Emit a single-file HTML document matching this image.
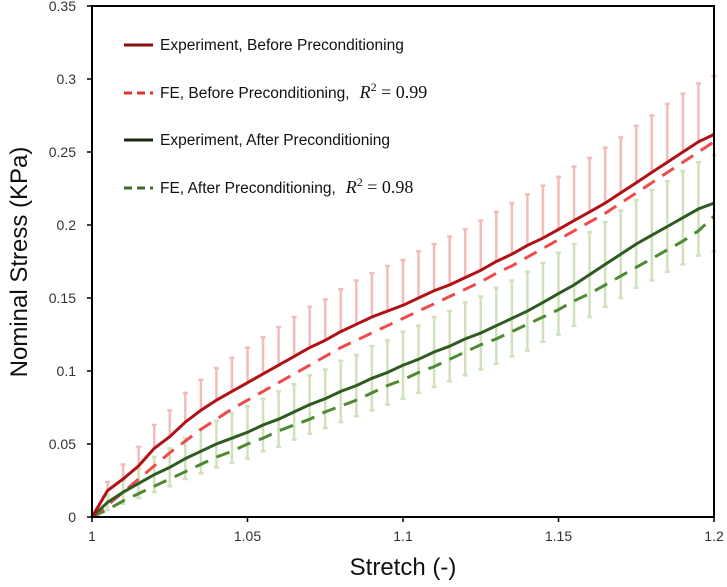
<!DOCTYPE html>
<html><head><meta charset="utf-8"><style>
body{margin:0;background:#fff;}
svg text{font-family:"Liberation Sans",sans-serif;}
</style></head><body>
<svg id="chart" width="727" height="582" xmlns="http://www.w3.org/2000/svg"></svg>
<script>
const xs = [1.000,1.005,1.010,1.015,1.020,1.025,1.030,1.035,1.040,1.045,1.050,1.055,1.060,1.065,1.070,1.075,1.080,1.085,1.090,1.095,1.100,1.105,1.110,1.115,1.120,1.125,1.130,1.135,1.140,1.145,1.150,1.155,1.160,1.165,1.170,1.175,1.180,1.185,1.190,1.195,1.200];
const redExp = [0,0.018,0.026,0.035,0.047,0.055,0.065,0.073,0.080,0.086,0.092,0.098,0.104,0.110,0.116,0.121,0.127,0.132,0.137,0.141,0.145,0.150,0.155,0.159,0.164,0.169,0.175,0.180,0.186,0.191,0.197,0.203,0.209,0.215,0.222,0.229,0.236,0.243,0.250,0.257,0.262];
const redFE = [0,0.008,0.017,0.026,0.035,0.044,0.052,0.060,0.067,0.074,0.080,0.086,0.092,0.098,0.104,0.110,0.116,0.121,0.126,0.131,0.136,0.141,0.146,0.151,0.156,0.161,0.167,0.172,0.178,0.184,0.190,0.196,0.202,0.208,0.215,0.222,0.229,0.236,0.243,0.250,0.257];
const greenExp = [0,0.010,0.017,0.023,0.029,0.034,0.040,0.045,0.050,0.054,0.058,0.063,0.067,0.072,0.077,0.081,0.086,0.090,0.095,0.099,0.104,0.108,0.113,0.117,0.122,0.126,0.131,0.136,0.141,0.147,0.153,0.159,0.166,0.173,0.180,0.187,0.193,0.199,0.205,0.211,0.215];
const greenFE = [0,0.005,0.011,0.016,0.021,0.026,0.031,0.036,0.041,0.045,0.050,0.054,0.059,0.063,0.067,0.072,0.076,0.080,0.085,0.090,0.094,0.099,0.103,0.108,0.113,0.118,0.122,0.127,0.132,0.137,0.142,0.148,0.153,0.159,0.165,0.171,0.177,0.183,0.189,0.196,0.206];
const redSD = [0,0.006,0.010,0.013,0.016,0.018,0.020,0.021,0.022,0.023,0.024,0.025,0.026,0.027,0.028,0.028,0.029,0.030,0.030,0.031,0.031,0.032,0.032,0.033,0.033,0.034,0.034,0.035,0.035,0.036,0.036,0.037,0.037,0.038,0.038,0.039,0.039,0.040,0.040,0.040,0.040];
const greenSD = [0,0.005,0.008,0.010,0.012,0.013,0.014,0.015,0.016,0.017,0.018,0.018,0.019,0.019,0.020,0.020,0.021,0.021,0.022,0.022,0.023,0.023,0.024,0.024,0.025,0.025,0.026,0.026,0.027,0.027,0.028,0.028,0.029,0.029,0.030,0.030,0.031,0.031,0.032,0.032,0.033];
const xTicks = [1,1.05,1.1,1.15,1.2];
const xTickLabels = ["1","1.05","1.1","1.15","1.2"];
const yTicks = [0,0.05,0.1,0.15,0.2,0.25,0.3,0.35];
const yTickLabels = ["0","0.05","0.1","0.15","0.2","0.25","0.3","0.35"];

const L=92,R=714,T=6,B=517;
const X=v=>L+(v-1)/0.2*(R-L);
const Y=v=>B-v/0.35*(B-T);
const svg=document.getElementById('chart');
const NS='http://www.w3.org/2000/svg';
function mk(tag,attrs,parent){const e=document.createElementNS(NS,tag);for(const k in attrs)e.setAttribute(k,attrs[k]);(parent||svg).appendChild(e);return e;}

const gErr=mk('g',{});


xs.forEach((x,i)=>{
  if(i===0)return;
  const px=X(x);
  const gt=Y(greenExp[i]+greenSD[i]), gb=Y(greenExp[i]-greenSD[i]);
  const g=mk('path',{d:`M${px},${gt}V${gb}M${px-2.5},${gt}H${px+2.5}M${px-2.5},${gb}H${px+2.5}`,stroke:'#cfe2bb','stroke-width':2.5,fill:'none'},gErr);
  
  
  const rt=Y(redExp[i]+redSD[i]), rb=Y(redExp[i]);
  const r=mk('path',{d:`M${px},${rt}V${rb}M${px-2.5},${rt}H${px+2.5}`,stroke:'#f2bcbc','stroke-width':2.5,fill:'none'},gErr);
  
  
});

function line(arr,color,dash,name){
  const d=arr.map((v,i)=>(i?'L':'M')+X(xs[i]).toFixed(1)+','+Y(v).toFixed(1)).join('');
  const p=mk('path',{d,stroke:color,'stroke-width':3,fill:'none','stroke-dasharray':dash||'none'});
  
  
}
line(greenFE,'#4e8a34','14,9','fe-after-line');
line(redFE,'#ee4c4c','14,9','fe-before-line');
line(greenExp,'#2f5a22',null,'experiment-after-line');
line(redExp,'#b01116',null,'experiment-before-line');

const fr=mk('rect',{x:L,y:T,width:R-L,height:B-T,fill:'none',stroke:'#000','stroke-width':2});



yTicks.forEach((v,i)=>{
  mk('line',{x1:L-5,x2:L,y1:Y(v),y2:Y(v),stroke:'#000','stroke-width':1.5});
  const t=mk('text',{x:76,y:Y(v)+5,'text-anchor':'end','font-size':14,fill:'#333'});
  t.textContent=yTickLabels[i];
  
  
});
xTicks.forEach((v,i)=>{
  mk('line',{x1:X(v),x2:X(v),y1:B,y2:B+5,stroke:'#000','stroke-width':1.5});
  const t=mk('text',{x:X(v),y:541,'text-anchor':'middle','font-size':14,fill:'#333'});
  t.textContent=xTickLabels[i];
  
  
});
const xt=mk('text',{x:403,y:575,'text-anchor':'middle','font-size':24,fill:'#111'});
xt.textContent='Stretch (-)';


const yt=mk('text',{x:0,y:0,'text-anchor':'middle','font-size':24,fill:'#111',transform:'translate(27,262) rotate(-90)'});
yt.textContent='Nominal Stress (KPa)';



const leg=[
 ['#8b0c10',null,'Experiment, Before Preconditioning','',false],
 ['#e03030','8,5','FE, Before Preconditioning,','0.99',true],
 ['#1a2a12',null,'Experiment, After Preconditioning','',false],
 ['#3f6a25','8,5','FE, After Preconditioning,','0.98',true]];
const ly=[45,93,140,188];
leg.forEach((e,i)=>{
  const g=mk('g',{});
  
  
  mk('line',{x1:124,x2:153,y1:ly[i],y2:ly[i],stroke:e[0],'stroke-width':3,'stroke-dasharray':e[1]||'none'},g);
  const t=mk('text',{x:160,y:ly[i]+5,'font-size':15.5,fill:'#111'},g);
  if(e[4]){
    t.innerHTML=e[2]+'<tspan dx="10" font-family="Liberation Serif, serif" font-style="italic" font-size="18">R</tspan><tspan font-family="Liberation Serif, serif" font-size="12" dy="-7">2</tspan><tspan font-family="Liberation Serif, serif" font-size="18" dy="7"> = '+e[3]+'</tspan>';
  } else t.textContent=e[2];
});
</script>
</body></html>
